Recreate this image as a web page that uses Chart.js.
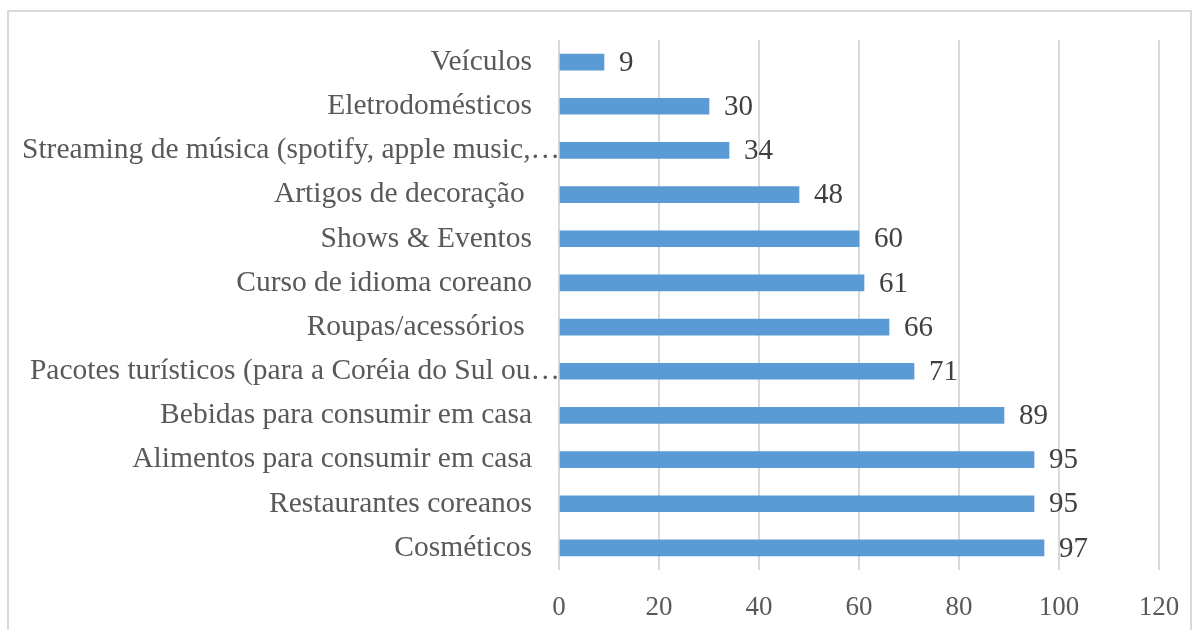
<!DOCTYPE html>
<html>
<head>
<meta charset="utf-8">
<script src="https://cdn.jsdelivr.net/npm/chart.js@4"></script>
<style>
    body { margin: 0; background: #fff; overflow: hidden; }
    #frame { position: absolute; left: 7px; top: 10px; width: 1181px; height: 640px; border: 2px solid #d9d9d9; }
    #wrap { position: absolute; left: 0; top: 0; width: 1180px; height: 618px; }
</style>
</head>
<body>
<div id="frame"><div id="wrap"><canvas id="chart"></canvas></div></div>
<script>
    // Categories (top to bottom) and values
    const categories = [
        "Veículos",
        "Eletrodomésticos",
        "Streaming de música (spotify, apple music,…",
        "Artigos de decoração ",
        "Shows & Eventos",
        "Curso de idioma coreano",
        "Roupas/acessórios ",
        "Pacotes turísticos (para a Coréia do Sul ou…",
        "Bebidas para consumir em casa",
        "Alimentos para consumir em casa",
        "Restaurantes coreanos",
        "Cosméticos",
    ];
    const values = [9, 30, 34, 48, 60, 61, 66, 71, 89, 95, 95, 97];
    const xTicks = [0, 20, 40, 60, 80, 100, 120];

    const fontFamily = "'Liberation Serif', 'Times New Roman', serif";

    // Category labels, right aligned next to the axis (cut labels run up to the axis)
    const categoryLabels = {
        id: "categoryLabels",
        afterDraw(chart) {
            const ctx = chart.ctx;
            const yScale = chart.scales.y;
            const left = chart.chartArea.left;
            ctx.save();
            ctx.font = "29.5px " + fontFamily;
            ctx.fillStyle = "#595959";
            ctx.textAlign = "right";
            ctx.textBaseline = "middle";
            categories.forEach((label, i) => {
                const y = yScale.getPixelForTick(i);
                const x = label.endsWith("…") ? left + 1 : left - 27;
                ctx.fillText(label, x, y);
            });
            ctx.restore();
        },
    };

    // Draw value labels at the end of each bar
    const valueLabels = {
        id: "valueLabels",
        afterDatasetsDraw(chart) {
            const ctx = chart.ctx;
            const meta = chart.getDatasetMeta(0);
            ctx.save();
            ctx.font = "29px " + fontFamily;
            ctx.fillStyle = "#404040";
            ctx.textAlign = "left";
            ctx.textBaseline = "middle";
            meta.data.forEach((bar, i) => {
                ctx.fillText(String(values[i]), bar.x + 15, bar.y + 1);
            });
            ctx.restore();
        },
    };

    new Chart(document.getElementById("chart"), {
        type: "bar",
        data: {
            labels: categories,
            datasets: [
                {
                    data: values,
                    backgroundColor: "#5b9bd5",
                    barThickness: 16,
                },
            ],
        },
        options: {
            indexAxis: "y",
            responsive: true,
            maintainAspectRatio: false,
            animation: false,
            layout: { padding: { top: 28, right: 30, bottom: 0, left: 0 } },
            plugins: {
                legend: { display: false },
                tooltip: { enabled: false },
            },
            scales: {
                x: {
                    min: 0,
                    max: 120,
                    afterBuildTicks: (scale) => {
                        scale.ticks = xTicks.map((v) => ({ value: v }));
                    },
                    afterFit: (scale) => {
                        scale.height = 60;
                        scale.paddingRight = 20;
                    },
                    grid: { color: "#d9d9d9", lineWidth: 2, tickLength: 0 },
                    border: { display: false },
                    ticks: {
                        padding: 22,
                        color: "#595959",
                        font: { family: fontFamily, size: 27 },
                    },
                },
                y: {
                    afterFit: (scale) => {
                        scale.width = 550;
                    },
                    grid: { display: false },
                    border: { display: false },
                    ticks: { display: false },
                },
            },
        },
        plugins: [valueLabels, categoryLabels],
    });
</script>
</body>
</html>
